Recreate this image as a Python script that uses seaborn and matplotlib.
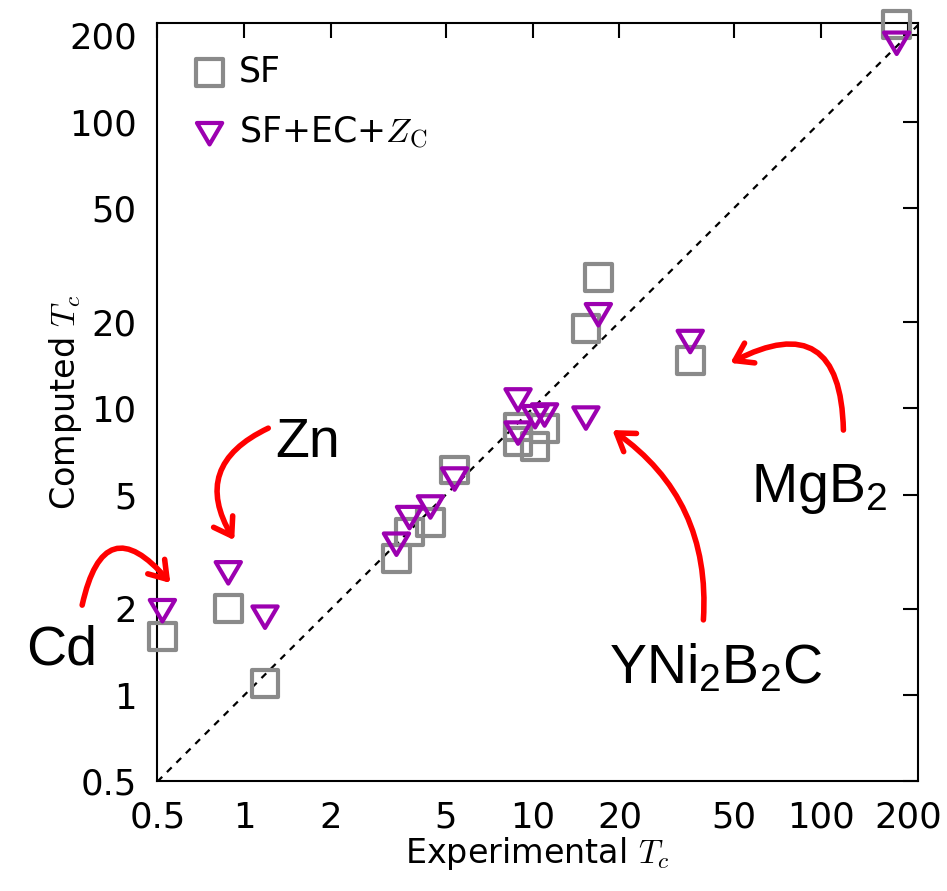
import numpy as np
import pandas as pd
import matplotlib
matplotlib.use("Agg")
import matplotlib.pyplot as plt
import seaborn as sns
from matplotlib.path import Path
from matplotlib.ticker import NullLocator

# experimental Tc (shared by both series) and computed Tc
exp_tc = [0.52, 0.88, 1.18, 3.37, 3.74, 4.42, 5.36, 8.9, 8.9, 10.2, 11.0, 15.3, 16.9, 35.2, 183]
sf_tc = [1.60, 2.00, 1.10, 3.00, 3.71, 4.00, 6.09, 8.6, 7.65, 7.35, 8.5, 19.0, 28.6, 14.7, 218]
sf_ec_zc_tc = [1.97, 2.67, 1.87, 3.36, 4.16, 4.53, 5.67, 10.7, 8.2, 9.35, 9.48, 9.25, 21.2, 17.1, 187.5]

ticks = [0.5, 1, 2, 5, 10, 20, 50, 100, 200]
tick_labels = ["0.5", "1", "2", "5", "10", "20", "50", "100", "200"]

sns.set_style("white")
plt.rcParams["font.family"] = ["DejaVu Sans"]
plt.rcParams["text.color"] = "black"
plt.rcParams["axes.labelcolor"] = "black"
plt.rcParams["xtick.color"] = "black"
plt.rcParams["ytick.color"] = "black"
plt.rcParams["mathtext.fontset"] = "cm"
plt.rcParams["mathtext.rm"] = "Liberation Sans"
plt.rcParams["mathtext.it"] = "Liberation Sans:italic"

df = pd.DataFrame({"exp": exp_tc, "sf": sf_tc, "full": sf_ec_zc_tc})

fig = plt.figure(figsize=(9.47, 8.91), dpi=100)
ax = fig.add_axes([0.1663, 0.1229, 0.9694 - 0.1663, 0.9738 - 0.1229])

# wide, flat downward triangle like the original
tri = Path([(-1, 0.85), (1, 0.85), (0, -0.85), (-1, 0.85)],
           [Path.MOVETO, Path.LINETO, Path.LINETO, Path.CLOSEPOLY])

gray = "#8a8a8a"
purple = "#9c00b0"

ax.plot([0.5, 220], [0.5, 220], color="black", lw=1.6, ls=(0, (3, 3)), zorder=1)

sns.scatterplot(data=df, x="exp", y="sf", marker="s", s=370, color=gray,
                facecolor="none", edgecolor=gray, linewidth=3.0,
                label="SF", ax=ax, clip_on=False, zorder=3)
sns.scatterplot(data=df, x="exp", y="full", marker=tri, s=330, color=purple,
                facecolor="none", edgecolor=purple, linewidth=3.0,
                label=r"SF+EC+$Z_{\mathrm{C}}$", ax=ax, clip_on=False, zorder=4)

ax.set_xscale("log")
ax.set_yscale("log")
ax.set_xlim(0.5, 217)
ax.set_ylim(0.5, 220)
ax.set_xticks(ticks, labels=tick_labels)
ax.set_yticks(ticks, labels=tick_labels)
ax.xaxis.set_minor_locator(NullLocator())
ax.yaxis.set_minor_locator(NullLocator())
ax.tick_params(direction="in", top=True, right=True, length=11, width=1.5,
               labelsize=25.5)
ax.tick_params(axis="x", pad=14)
ax.tick_params(axis="y", pad=15)
for sp in ax.spines.values():
    sp.set_linewidth(1.5)
    sp.set_color("black")

ax.set_xlabel("Experimental $T_c$", fontsize=24, labelpad=0)
ax.set_ylabel("Computed $T_c$", fontsize=24)
ax.yaxis.set_label_coords(-0.097, 0.5)

ax.legend(loc="upper left", frameon=False, fontsize=25, handlelength=1.0,
          handletextpad=0.35, labelspacing=0.75, borderaxespad=0.6,
          bbox_to_anchor=(0.0, 1.005))

# annotations
arrow = dict(arrowstyle="->,head_length=0.6,head_width=0.4", color="red",
             lw=4, shrinkA=0, shrinkB=0, mutation_scale=20)
notes = [
    ((0.923, 3.47), (1.211, 8.53), 0.55),
    ((0.554, 2.46), (0.274, 2.06), -1.0),
    ((48.5, 14.4), (119.6, 8.40), 0.8),
    ((18.9, 8.40), (39.1, 1.83), 0.28),
]
for end, start, rad in notes:
    ax.annotate("", xy=end, xytext=start,
                arrowprops=dict(arrow, connectionstyle=f"arc3,rad={rad}"),
                annotation_clip=False)

labels = [("Zn", 1.654, 6.76), ("Cd", 0.232, 1.28),
          ("MgB$_2$", 98.7, 4.71), ("YNi$_2$B$_2$C", 43.0, 1.10)]
for txt, x, y in labels:
    ax.text(x, y, txt, fontsize=40, family="Liberation Sans", ha="center",
            va="baseline", math_fontfamily="custom", clip_on=False)

fig.savefig("out.png", dpi=100)
